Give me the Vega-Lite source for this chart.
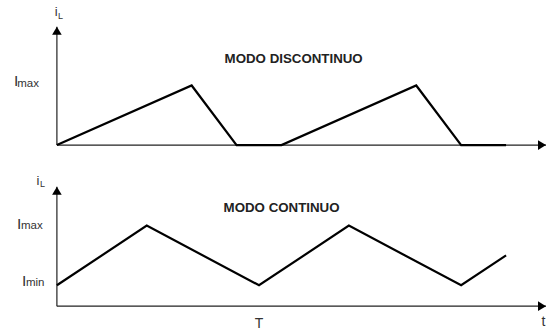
{
  "$schema": "https://vega.github.io/schema/vega-lite/v6.json",
  "width": 547,
  "height": 331,
  "autosize": {"type": "fit", "contains": "padding"},
  "padding": 0,
  "background": "white",
  "config": {"view": {"stroke": null}, "text": {"font": "Liberation Sans"}},
  "datasets": {
    "axes": [
      {"panel": "top", "t": 0, "v": 0, "t2": 0, "v2": 5.95},
      {"panel": "top", "t": 0, "v": 0, "t2": 10.8889, "v2": 0},
      {"panel": "bottom", "t": 0, "v": 0, "t2": 0, "v2": 6.0},
      {"panel": "bottom", "t": 0, "v": 0, "t2": 10.8889, "v2": 0}
    ],
    "arrows": [
      {"panel": "top", "dir": "up", "t": 0, "v": 5.95},
      {"panel": "top", "dir": "right", "t": 10.8889, "v": 0},
      {"panel": "bottom", "dir": "up", "t": 0, "v": 6.0},
      {"panel": "bottom", "dir": "right", "t": 10.8889, "v": 0}
    ],
    "wave": [
      {"panel": "top", "t": 0, "v": 0},
      {"panel": "top", "t": 3, "v": 3},
      {"panel": "top", "t": 4, "v": 0},
      {"panel": "top", "t": 5, "v": 0},
      {"panel": "top", "t": 8, "v": 3},
      {"panel": "top", "t": 9, "v": 0},
      {"panel": "top", "t": 10, "v": 0},
      {"panel": "bottom", "t": 0, "v": 1.05},
      {"panel": "bottom", "t": 2, "v": 4.05},
      {"panel": "bottom", "t": 4.5, "v": 1.05},
      {"panel": "bottom", "t": 6.5, "v": 4.05},
      {"panel": "bottom", "t": 9, "v": 1.05},
      {"panel": "bottom", "t": 10, "v": 2.55}
    ],
    "labels": [
      {"panel": "top", "kind": "small", "text": "i", "t": -0.05, "v": 6.5},
      {"panel": "top", "kind": "tiny", "text": "L", "t": 0.022, "v": 6.35},
      {"panel": "top", "kind": "big", "text": "I", "t": -0.956, "v": 2.95},
      {"panel": "top", "kind": "sub", "text": "max", "t": -0.882, "v": 2.925},
      {"panel": "top", "kind": "title", "text": "MODO DISCONTINUO", "t": 3.733, "v": 4.15},
      {"panel": "bottom", "kind": "small", "text": "i", "t": -0.456, "v": 6.1},
      {"panel": "bottom", "kind": "tiny", "text": "L", "t": -0.378, "v": 6.0},
      {"panel": "bottom", "kind": "big", "text": "I", "t": -0.889, "v": 3.9},
      {"panel": "bottom", "kind": "sub", "text": "max", "t": -0.8, "v": 3.9},
      {"panel": "bottom", "kind": "big", "text": "I", "t": -0.778, "v": 1.0},
      {"panel": "bottom", "kind": "sub", "text": "min", "t": -0.689, "v": 1.0},
      {"panel": "bottom", "kind": "title", "text": "MODO CONTINUO", "t": 3.711, "v": 4.75},
      {"panel": "bottom", "kind": "axis", "text": "T", "t": 4.5, "v": -1.1},
      {"panel": "bottom", "kind": "axis", "text": "t", "t": 10.833, "v": -1.0}
    ]
  },
  "encoding": {
    "x": {"field": "t", "type": "quantitative", "scale": {"domain": [-1.2667, 10.8889], "nice": false, "zero": false}, "axis": null}
  },
  "layer": [
    {
      "encoding": {
        "y": {"field": "v", "type": "quantitative", "scale": {"domain": [-9.25, 7.3], "nice": false, "zero": false}, "axis": null}
      },
      "layer": [
        {
          "data": {"name": "axes"},
          "transform": [{"filter": "datum.panel === 'top'"}],
          "mark": {"type": "rule", "color": "#222", "strokeWidth": 1.2},
          "encoding": {"x2": {"field": "t2"}, "y2": {"field": "v2"}}
        },
        {
          "data": {"name": "wave"},
          "transform": [{"filter": "datum.panel === 'top'"}],
          "mark": {"type": "line", "color": "#000", "strokeWidth": 2.2, "strokeJoin": "miter"}
        },
        {
          "data": {"name": "arrows"},
          "transform": [{"filter": "datum.panel === 'top'"}],
          "mark": {"type": "point", "filled": true, "color": "#000", "opacity": 1, "size": 256},
          "encoding": {"shape": {"field": "dir", "type": "nominal", "scale": {"domain": ["up", "right"], "range": ["M0,0L-0.6,1L0.6,1Z", "M0,0L-1,-0.6L-1,0.6Z"]}, "legend": null}}
        },
        {
          "data": {"name": "labels"},
          "transform": [{"filter": "datum.panel === 'top' && datum.kind === 'big'"}],
          "mark": {"type": "text", "align": "left", "baseline": "alphabetic", "fontSize": 15.5, "color": "#333"},
          "encoding": {"text": {"field": "text"}}
        },
        {
          "data": {"name": "labels"},
          "transform": [{"filter": "datum.panel === 'top' && datum.kind === 'small'"}],
          "mark": {"type": "text", "align": "left", "baseline": "alphabetic", "fontSize": 13, "color": "#333"},
          "encoding": {"text": {"field": "text"}}
        },
        {
          "data": {"name": "labels"},
          "transform": [{"filter": "datum.panel === 'top' && datum.kind === 'sub'"}],
          "mark": {"type": "text", "align": "left", "baseline": "alphabetic", "fontSize": 11.5, "color": "#333"},
          "encoding": {"text": {"field": "text"}}
        },
        {
          "data": {"name": "labels"},
          "transform": [{"filter": "datum.panel === 'top' && datum.kind === 'tiny'"}],
          "mark": {"type": "text", "align": "left", "baseline": "alphabetic", "fontSize": 9, "color": "#333"},
          "encoding": {"text": {"field": "text"}}
        },
        {
          "data": {"name": "labels"},
          "transform": [{"filter": "datum.panel === 'top' && datum.kind === 'title'"}],
          "mark": {"type": "text", "align": "left", "baseline": "alphabetic", "fontSize": 13.3, "fontWeight": "bold", "color": "#222"},
          "encoding": {"text": {"field": "text"}}
        }
      ]
    },
    {
      "encoding": {
        "y": {"field": "v", "type": "quantitative", "scale": {"domain": [-1.15, 15.4], "nice": false, "zero": false}, "axis": null}
      },
      "layer": [
        {
          "data": {"name": "axes"},
          "transform": [{"filter": "datum.panel === 'bottom'"}],
          "mark": {"type": "rule", "color": "#222", "strokeWidth": 1.2},
          "encoding": {"x2": {"field": "t2"}, "y2": {"field": "v2"}}
        },
        {
          "data": {"name": "wave"},
          "transform": [{"filter": "datum.panel === 'bottom'"}],
          "mark": {"type": "line", "color": "#000", "strokeWidth": 2.2, "strokeJoin": "miter"}
        },
        {
          "data": {"name": "arrows"},
          "transform": [{"filter": "datum.panel === 'bottom'"}],
          "mark": {"type": "point", "filled": true, "color": "#000", "opacity": 1, "size": 256},
          "encoding": {"shape": {"field": "dir", "type": "nominal", "scale": {"domain": ["up", "right"], "range": ["M0,0L-0.6,1L0.6,1Z", "M0,0L-1,-0.6L-1,0.6Z"]}, "legend": null}}
        },
        {
          "data": {"name": "labels"},
          "transform": [{"filter": "datum.panel === 'bottom' && datum.kind === 'big'"}],
          "mark": {"type": "text", "align": "left", "baseline": "alphabetic", "fontSize": 15.5, "color": "#333"},
          "encoding": {"text": {"field": "text"}}
        },
        {
          "data": {"name": "labels"},
          "transform": [{"filter": "datum.panel === 'bottom' && datum.kind === 'small'"}],
          "mark": {"type": "text", "align": "left", "baseline": "alphabetic", "fontSize": 13, "color": "#333"},
          "encoding": {"text": {"field": "text"}}
        },
        {
          "data": {"name": "labels"},
          "transform": [{"filter": "datum.panel === 'bottom' && datum.kind === 'sub'"}],
          "mark": {"type": "text", "align": "left", "baseline": "alphabetic", "fontSize": 11.5, "color": "#333"},
          "encoding": {"text": {"field": "text"}}
        },
        {
          "data": {"name": "labels"},
          "transform": [{"filter": "datum.panel === 'bottom' && datum.kind === 'tiny'"}],
          "mark": {"type": "text", "align": "left", "baseline": "alphabetic", "fontSize": 9, "color": "#333"},
          "encoding": {"text": {"field": "text"}}
        },
        {
          "data": {"name": "labels"},
          "transform": [{"filter": "datum.panel === 'bottom' && datum.kind === 'title'"}],
          "mark": {"type": "text", "align": "left", "baseline": "alphabetic", "fontSize": 13.3, "fontWeight": "bold", "color": "#222"},
          "encoding": {"text": {"field": "text"}}
        },
        {
          "data": {"name": "labels"},
          "transform": [{"filter": "datum.panel === 'bottom' && datum.kind === 'axis'"}],
          "mark": {"type": "text", "align": "center", "baseline": "alphabetic", "fontSize": 14, "color": "#333"},
          "encoding": {"text": {"field": "text"}}
        }
      ]
    }
  ],
  "resolve": {"scale": {"y": "independent", "shape": "shared"}}
}
